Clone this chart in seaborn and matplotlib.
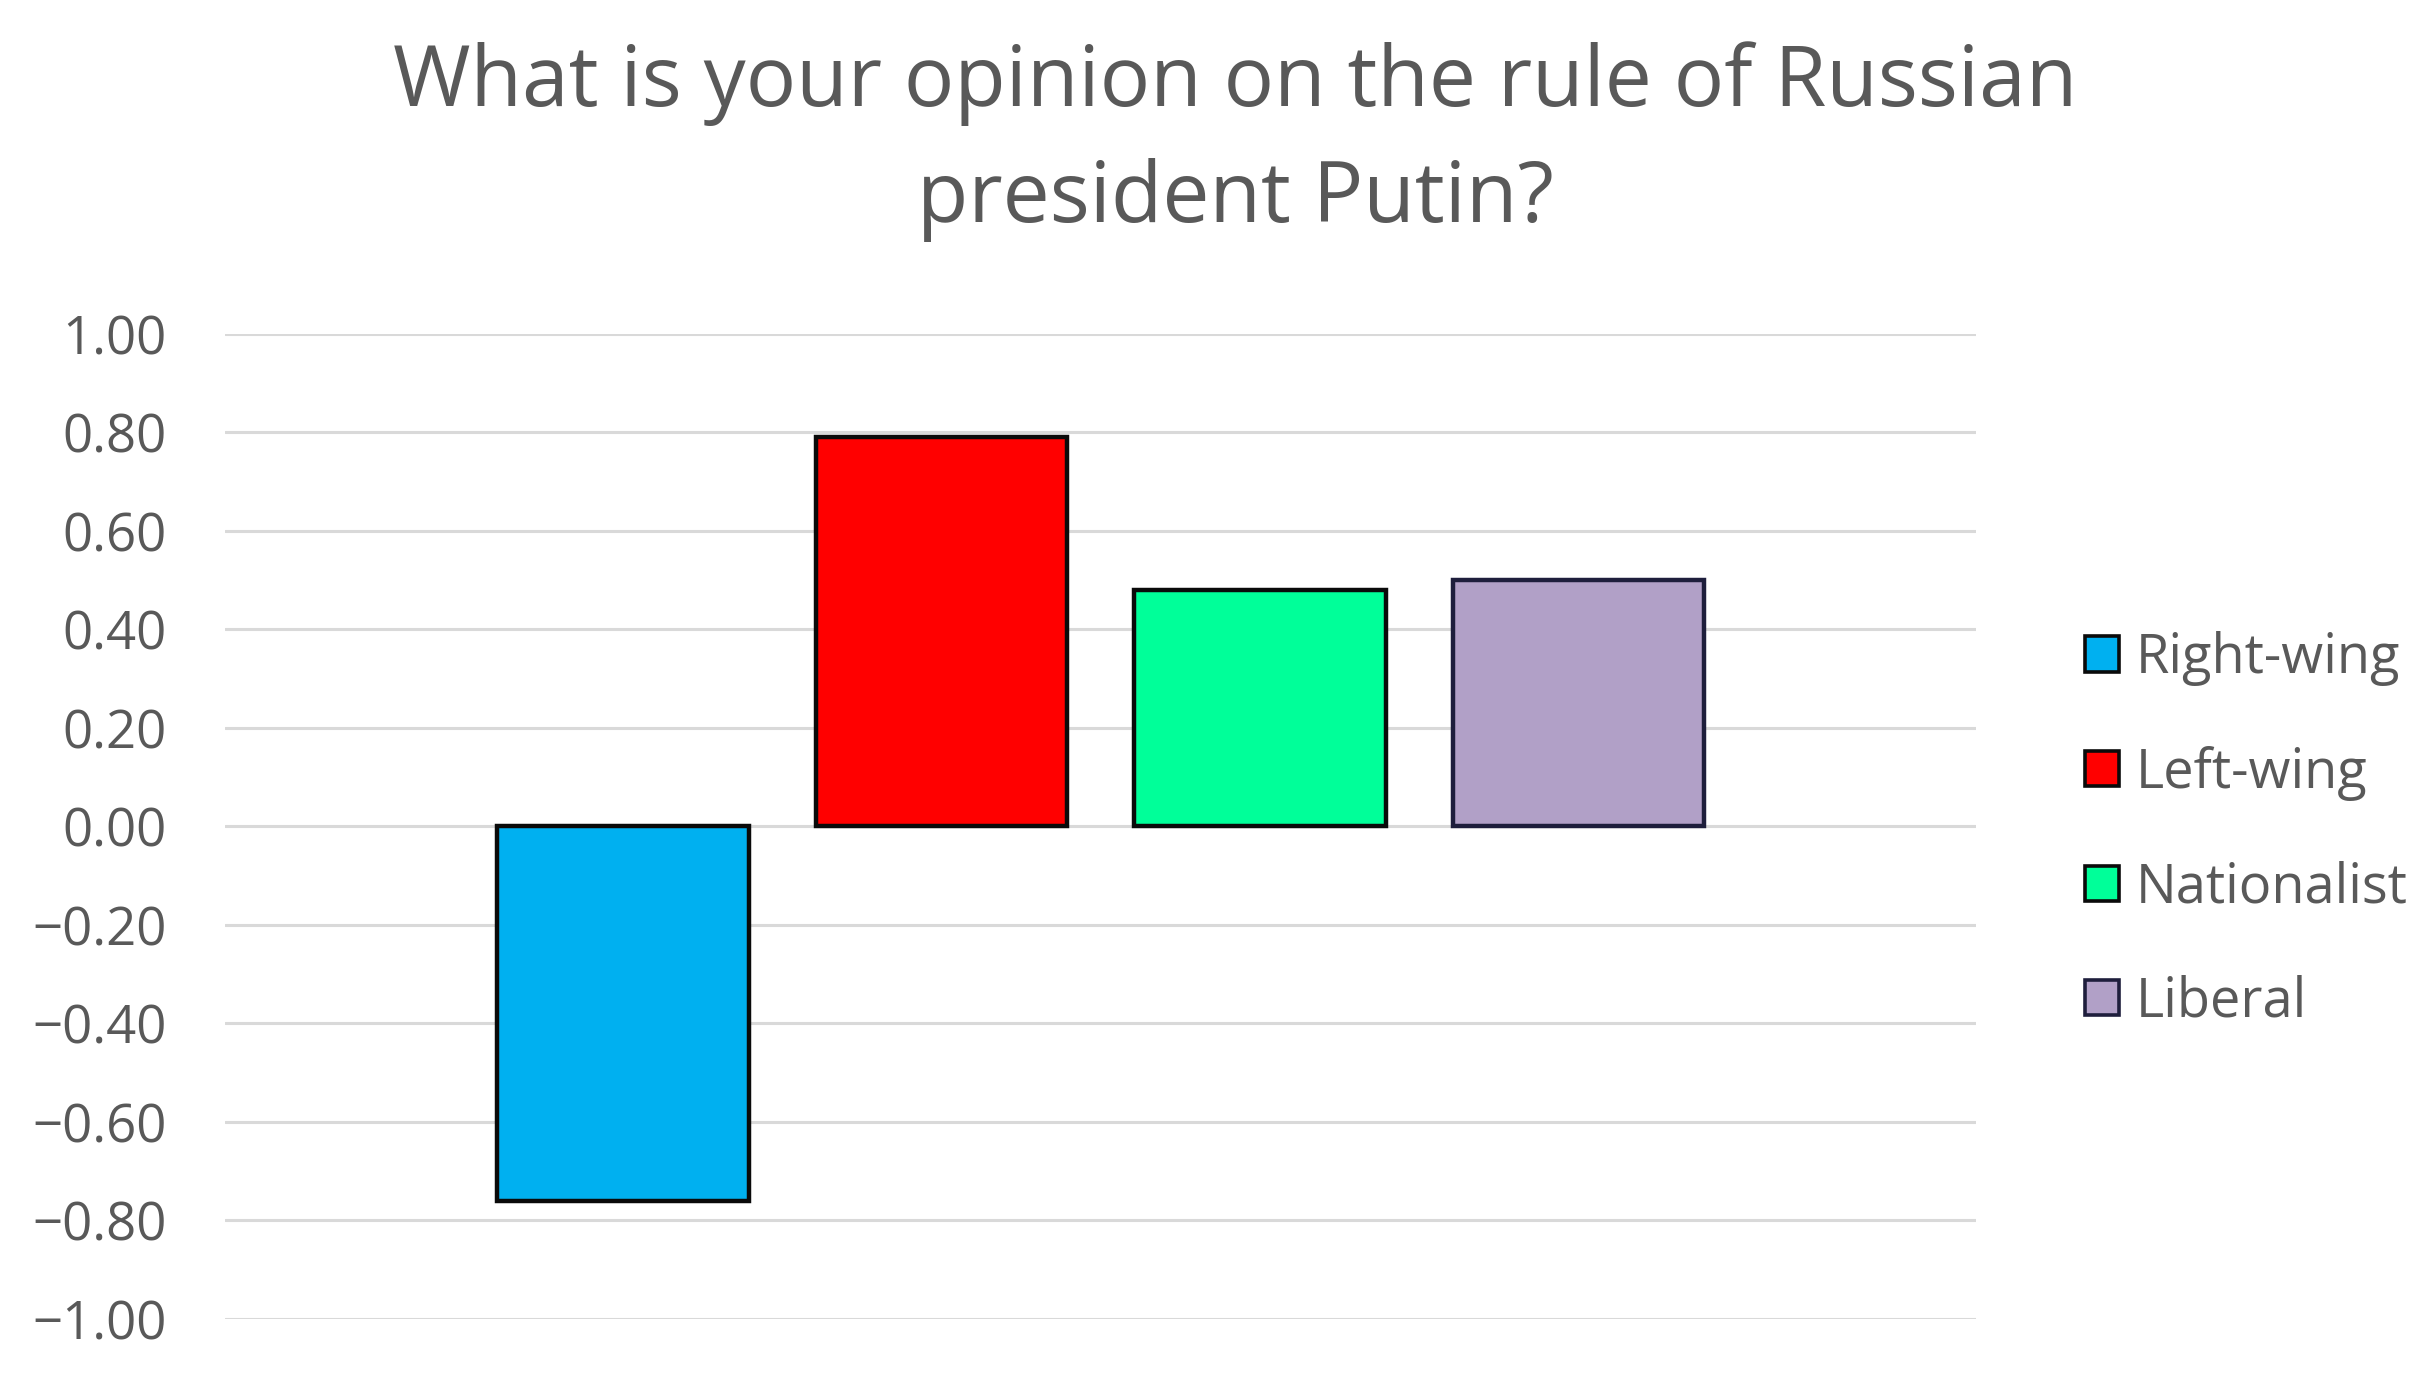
import matplotlib
matplotlib.use("Agg")
import matplotlib.pyplot as plt
from matplotlib.patches import Patch
import seaborn as sns
import pandas as pd

groups = ["Right-wing", "Left-wing", "Nationalist", "Liberal"]
scores = [-0.76, 0.79, 0.48, 0.50]
colors = ["#00B0F0", "#FF0000", "#00FF99", "#B1A0C7"]
edges = ["#0A0A0A", "#0A0A0A", "#0A0A0A", "#1E1E3C"]
yticks = [1.0, 0.8, 0.6, 0.4, 0.2, 0.0, -0.2, -0.4, -0.6, -0.8, -1.0]

df = pd.DataFrame({"question": ["Putin"] * len(groups), "group": groups, "score": scores})

sns.set_style("white")
plt.rcParams["font.family"] = ["Open Sans", "DejaVu Sans"]
text_grey = "#595959"

fig = plt.figure(figsize=(24.36, 13.84), dpi=100)
ax = fig.add_axes([0.0924, 0.047, 0.7188, 0.7117])

sns.barplot(
    data=df, x="question", y="score", hue="group", hue_order=groups,
    palette=colors, saturation=1, width=0.7276, gap=0.21, legend=False, ax=ax,
    edgecolor="#0A0A0A", linewidth=3.2,
)
for bar, ec in zip(ax.patches, edges):
    bar.set_edgecolor(ec)

ax.set_xlim(-0.5, 0.5)
ax.set_ylim(-1.0, 1.0)
ax.set_yticks(yticks)
ax.set_yticklabels([f"{v:.2f}".replace("-", "\u2212") for v in yticks])
ax.tick_params(axis="y", length=0, pad=42, labelsize=38, labelcolor=text_grey)
ax.set_xticks([])
ax.set_xlabel("")
ax.set_ylabel("")
for s in ax.spines.values():
    s.set_visible(False)
ax.set_axisbelow(True)
ax.yaxis.grid(True, color="#D9D9D9", linewidth=2.2)

fig.suptitle("What is your opinion on the rule of Russian\npresident Putin?",
             x=0.507, y=0.970, fontsize=60.5, color=text_grey, linespacing=1.5)

handles = [Patch(facecolor=c, edgecolor=e, linewidth=2.6) for c, e in zip(colors, edges)]
fig.legend(handles, groups, loc="center left", bbox_to_anchor=(0.836, 0.400),
           frameon=False, fontsize=39, labelcolor=text_grey,
           handlelength=0.62, handleheight=0.62, handletextpad=0.32,
           labelspacing=1.1)

fig.savefig("out.png", dpi=100)
